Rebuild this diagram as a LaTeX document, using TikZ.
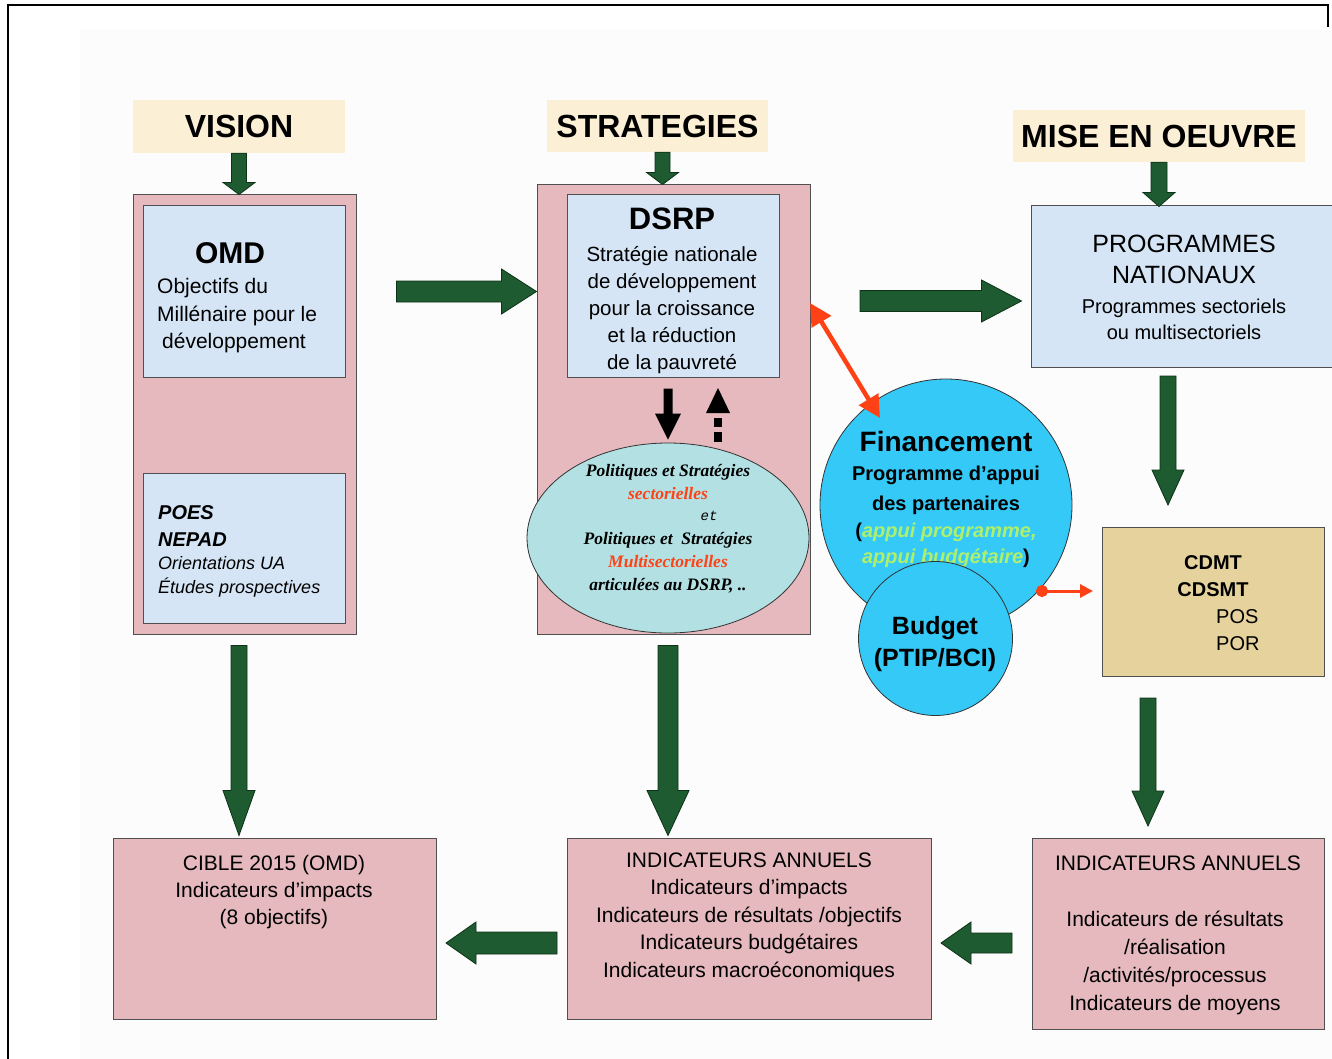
\documentclass[tikz,border=0pt]{standalone}
\usepackage{fontspec}
\setmainfont{Liberation Sans}
\newfontfamily\timesf{Liberation Serif}
\newfontfamily\courf{Liberation Mono}
\usetikzlibrary{calc,arrows.meta,shapes.geometric}
\definecolor{pinkc}{HTML}{E5B9BD}
\definecolor{bluec}{HTML}{D5E5F5}
\definecolor{creamc}{HTML}{FBEFD6}
\definecolor{papyrus}{HTML}{E6D29C}
\definecolor{ellc}{HTML}{B3E0E3}
\definecolor{cyanc}{HTML}{35C9F7}
\definecolor{ggreen}{HTML}{1E5B30}
\definecolor{gdark}{HTML}{0C3318}
\definecolor{redc}{HTML}{FF4216}
\definecolor{lgreen}{HTML}{AEF06C}
\definecolor{boxline}{HTML}{505050}
\newcommand\fsz[2]{\fontsize{#1}{#2}\selectfont}
\begin{document}
\begin{tikzpicture}[x=1pt,y=-1pt,
  box/.style={draw=boxline, line width=1pt, rectangle, inner sep=0pt},
  pinkbox/.style={box, fill=pinkc},
  bluebox/.style={box, fill=bluec},
  hdr/.style={fill=creamc, inner sep=0pt, font=\bfseries\fsz{32}{38}},
  txt/.style={inner sep=0pt, align=center},
  gcol/.style={draw=gdark, fill=ggreen, line width=0.8pt, line join=miter},
  gto/.style n args={3}{to path={let \p1=(\tikztostart), \p2=(\tikztotarget), \p3=($(\p2)!#3!(\p1)$) in
      ($(\p1)!#1!90:(\p2)$) -- ($(\p3)!#1!-90:(\p1)$) -- ($(\p3)!#2!-90:(\p1)$) -- (\p2)
      -- ($(\p3)!#2!90:(\p1)$) -- ($(\p3)!#1!90:(\p1)$) -- ($(\p1)!#1!-90:(\p2)$) -- cycle}},
  circ/.style={circle, draw=black!80, line width=0.8pt, fill=cyanc, inner sep=0pt}
]
\useasboundingbox (0,0) rectangle (1332,1059);
\fill[white] (0,0) rectangle (1332,1059);
\fill[black!1] (80,30) rectangle (1332,1059);
\draw[line width=2pt] (8,1059) -- (8,5) -- (1328,5) -- (1328,27);

% headers
\node[hdr, minimum width=212pt, minimum height=53pt] (vision) at (239,126.5) {VISION};
\node[hdr, minimum width=221pt, minimum height=52pt] (strat) at (657.5,126) {STRATEGIES};
\node[hdr, minimum width=292pt, minimum height=52pt] (mise) at (1159,136) {MISE EN OEUVRE};

% left column
\node[pinkbox, minimum width=223pt, minimum height=439pt] (lcol) at (244.5,414.5) {};
\node[bluebox, minimum width=202pt, minimum height=171pt] (omd) at (244,291.5) {};
\node[bluebox, minimum width=202pt, minimum height=150pt] (poes) at (244,548) {};
\node[txt, font=\bfseries\fsz{30}{36}] (omdtitle) at (230,253) {OMD};
\node[txt, anchor=north west, align=left, font=\fsz{21}{27.5}] (omdtext) at (157,278.5)
  {Objectifs du\\Millénaire pour le\\\hspace*{5pt}développement};
\node[txt, anchor=north west, align=left, font=\bfseries\itshape\fsz{20}{27}] (poestext) at (158,505)
  {POES\\NEPAD};
\node[txt, anchor=north west, align=left, font=\itshape\fsz{18}{24}] (orient) at (158,556.5)
  {Orientations UA\\Études prospectives};

% middle column
\node[pinkbox, minimum width=273pt, minimum height=449pt] (mcol) at (673.5,409.5) {};
\node[bluebox, minimum width=212pt, minimum height=182pt] (dsrp) at (673,286) {};
\node[txt, font=\bfseries\fsz{31}{36}] (dsrptitle) at (672,219) {DSRP};
\node[txt, anchor=north, font=\fsz{20.5}{27}] (dsrptext) at (672,246.5)
  {Stratégie nationale\\de développement\\pour la croissance\\et la réduction\\de la pauvreté};
\node[ellipse, draw=black!80, line width=0.8pt, fill=ellc, minimum width=282pt, minimum height=190pt, inner sep=0pt] (ell) at (668,538) {};
\node[txt, anchor=north, font=\timesf\bfseries\itshape\fsz{17.5}{23}] (ell1) at (668,464)
  {Politiques et Stratégies\\{\color{redc}sectorielles}};
\node[txt, font=\courf\itshape\fsz{14}{15}] (ellet) at (709,516) {et};
\node[txt, anchor=north, font=\timesf\bfseries\itshape\fsz{17.5}{23}] (ell2) at (668,532)
  {Politiques et\ \ Stratégies\\{\color{redc}Multisectorielles}\\articulées au DSRP, ..};

% black arrows inside middle column
\path[fill=black] ([yshift=-11pt]dsrp.south -| ell.north) to[gto={4.5pt}{13pt}{26pt}] ([yshift=3pt]ell.north);
\coordinate (uptip) at (718,388);
\fill[black] (uptip) -- ++(-12,25) -- ++(24,0) -- cycle;
\fill[black] (714,418) rectangle (722,427);
\fill[black] (714,432) rectangle (722,442);

% right column
\node[bluebox, minimum width=305pt, minimum height=161pt] (prog) at (1183.5,286.5) {};
\node[txt, anchor=north, font=\fsz{25}{31}] (progtitle) at (1184,235)
  {PROGRAMMES\\NATIONAUX};
\node[txt, anchor=north, font=\fsz{20}{26}] (progtext) at (1184,298.5)
  {Programmes sectoriels\\ou multisectoriels};
\node[box, fill=papyrus, minimum width=222pt, minimum height=149pt] (cdmt) at (1213,601.5) {};
\node[txt, anchor=north, font=\bfseries\fsz{20}{27}] (cdmttext) at (1213,555)
  {CDMT\\CDSMT};
\node[txt, anchor=north west, align=left, font=\fsz{20}{27}] (pos) at (1216,609)
  {POS\\POR};

% circles
\node[circ, minimum size=252pt] (fin) at (946,505) {};
\node[txt, font=\bfseries\fsz{28}{34}] (fintitle) at (946,441) {Financement};
\node[txt, anchor=north, font=\bfseries\fsz{20}{30}] (fintext) at (946,465.5)
  {Programme d’appui\\des partenaires};
\node[txt, anchor=north, font=\bfseries\fsz{20}{26}] (finapp) at (946,522.5)
  {({\color{lgreen}\itshape appui programme,}\\{\color{lgreen}\itshape appui budgétaire})};
\node[circ, minimum size=154pt] (bud) at (935.5,638.5) {};
\node[txt, anchor=north, font=\bfseries\fsz{25}{32}] (budtext) at (935,616)
  {Budget\\(PTIP/BCI)};

% bottom boxes
\node[pinkbox, minimum width=323pt, minimum height=181pt] (bl) at (274.5,928.5) {};
\node[pinkbox, minimum width=364pt, minimum height=181pt] (bm) at (749,928.5) {};
\node[pinkbox, minimum width=292pt, minimum height=191pt] (br) at (1178,933.5) {};
\node[txt, anchor=north, font=\fsz{21}{27}] (bltext) at (274,855)
  {CIBLE 2015 (OMD)\\Indicateurs d’impacts\\(8 objectifs)};
\node[txt, anchor=north, font=\fsz{21}{27.5}] (bmtext) at (749,852.5)
  {INDICATEURS ANNUELS\\Indicateurs d’impacts\\Indicateurs de résultats /objectifs\\Indicateurs budgétaires\\Indicateurs macroéconomiques};
\node[txt, anchor=north, font=\fsz{21}{27}] (brtitle) at (1178,855.5) {INDICATEURS ANNUELS};
\node[txt, anchor=north, font=\fsz{21}{28}] (brtext) at (1175,910.5)
  {Indicateurs de résultats\\/réalisation\\/activités/processus\\Indicateurs de moyens};

% green block arrows
\path[gcol] (vision.south) to[gto={7.5pt}{16pt}{12pt}] (vision.south |- lcol.north);
\path[gcol] ([xshift=5pt]strat.south) to[gto={7.5pt}{16pt}{12pt}] ([xshift=5pt]strat.south |- mcol.north);
\path[gcol] (mise.south) to[gto={8pt}{16pt}{14pt}] ([yshift=-1pt]mise.south |- prog.north);
\path[gcol] ([yshift=-11pt]lcol.south -| vision.south) to[gto={8pt}{16pt}{45pt}] ([yshift=2pt]bl.north -| vision.south);
\path[gcol] ([yshift=-11pt]mcol.south -| ell.center) to[gto={10pt}{21pt}{45pt}] ([yshift=2pt]bm.north -| ell.center);
\path[gcol] ([xshift=51pt]omd.east) to[gto={10.5pt}{22.5pt}{35pt}] (mcol.west |- omd.east);
\coordinate (m1) at (860,301);
\path[gcol] (m1) to[gto={10.5pt}{21pt}{40pt}] ([xshift=-9pt]prog.west |- m1);
\coordinate (p1) at (1168,376);
\coordinate (p2) at (1168,505);
\path[gcol] (p1) to[gto={8pt}{16pt}{35pt}] (p2);
\coordinate (c1) at (1148,698);
\coordinate (c2) at (1148,826);
\path[gcol] (c1) to[gto={8pt}{16pt}{35pt}] (c2);
\coordinate (b1) at (557,943);
\coordinate (b2) at (446,943);
\path[gcol] (b1) to[gto={11pt}{21pt}{30pt}] (b2);
\coordinate (b3) at (1012,943);
\coordinate (b4) at (941,943);
\path[gcol] (b3) to[gto={10pt}{21pt}{30pt}] (b4);

% red arrows
\coordinate (r1) at (810,303);
\coordinate (r2) at (880,418);
\draw[redc, line width=4.5pt, {Triangle[width=22pt,length=22pt]}-{Triangle[width=22pt,length=22pt]}] (r1) -- (r2);
\coordinate (d1) at (1036,591);
\coordinate (d2) at (1093,591);
\draw[redc, line width=3pt, {Circle[length=12pt]}-{Triangle[width=13pt,length=13pt]}] (d1) -- (d2);
\end{tikzpicture}
\end{document}
